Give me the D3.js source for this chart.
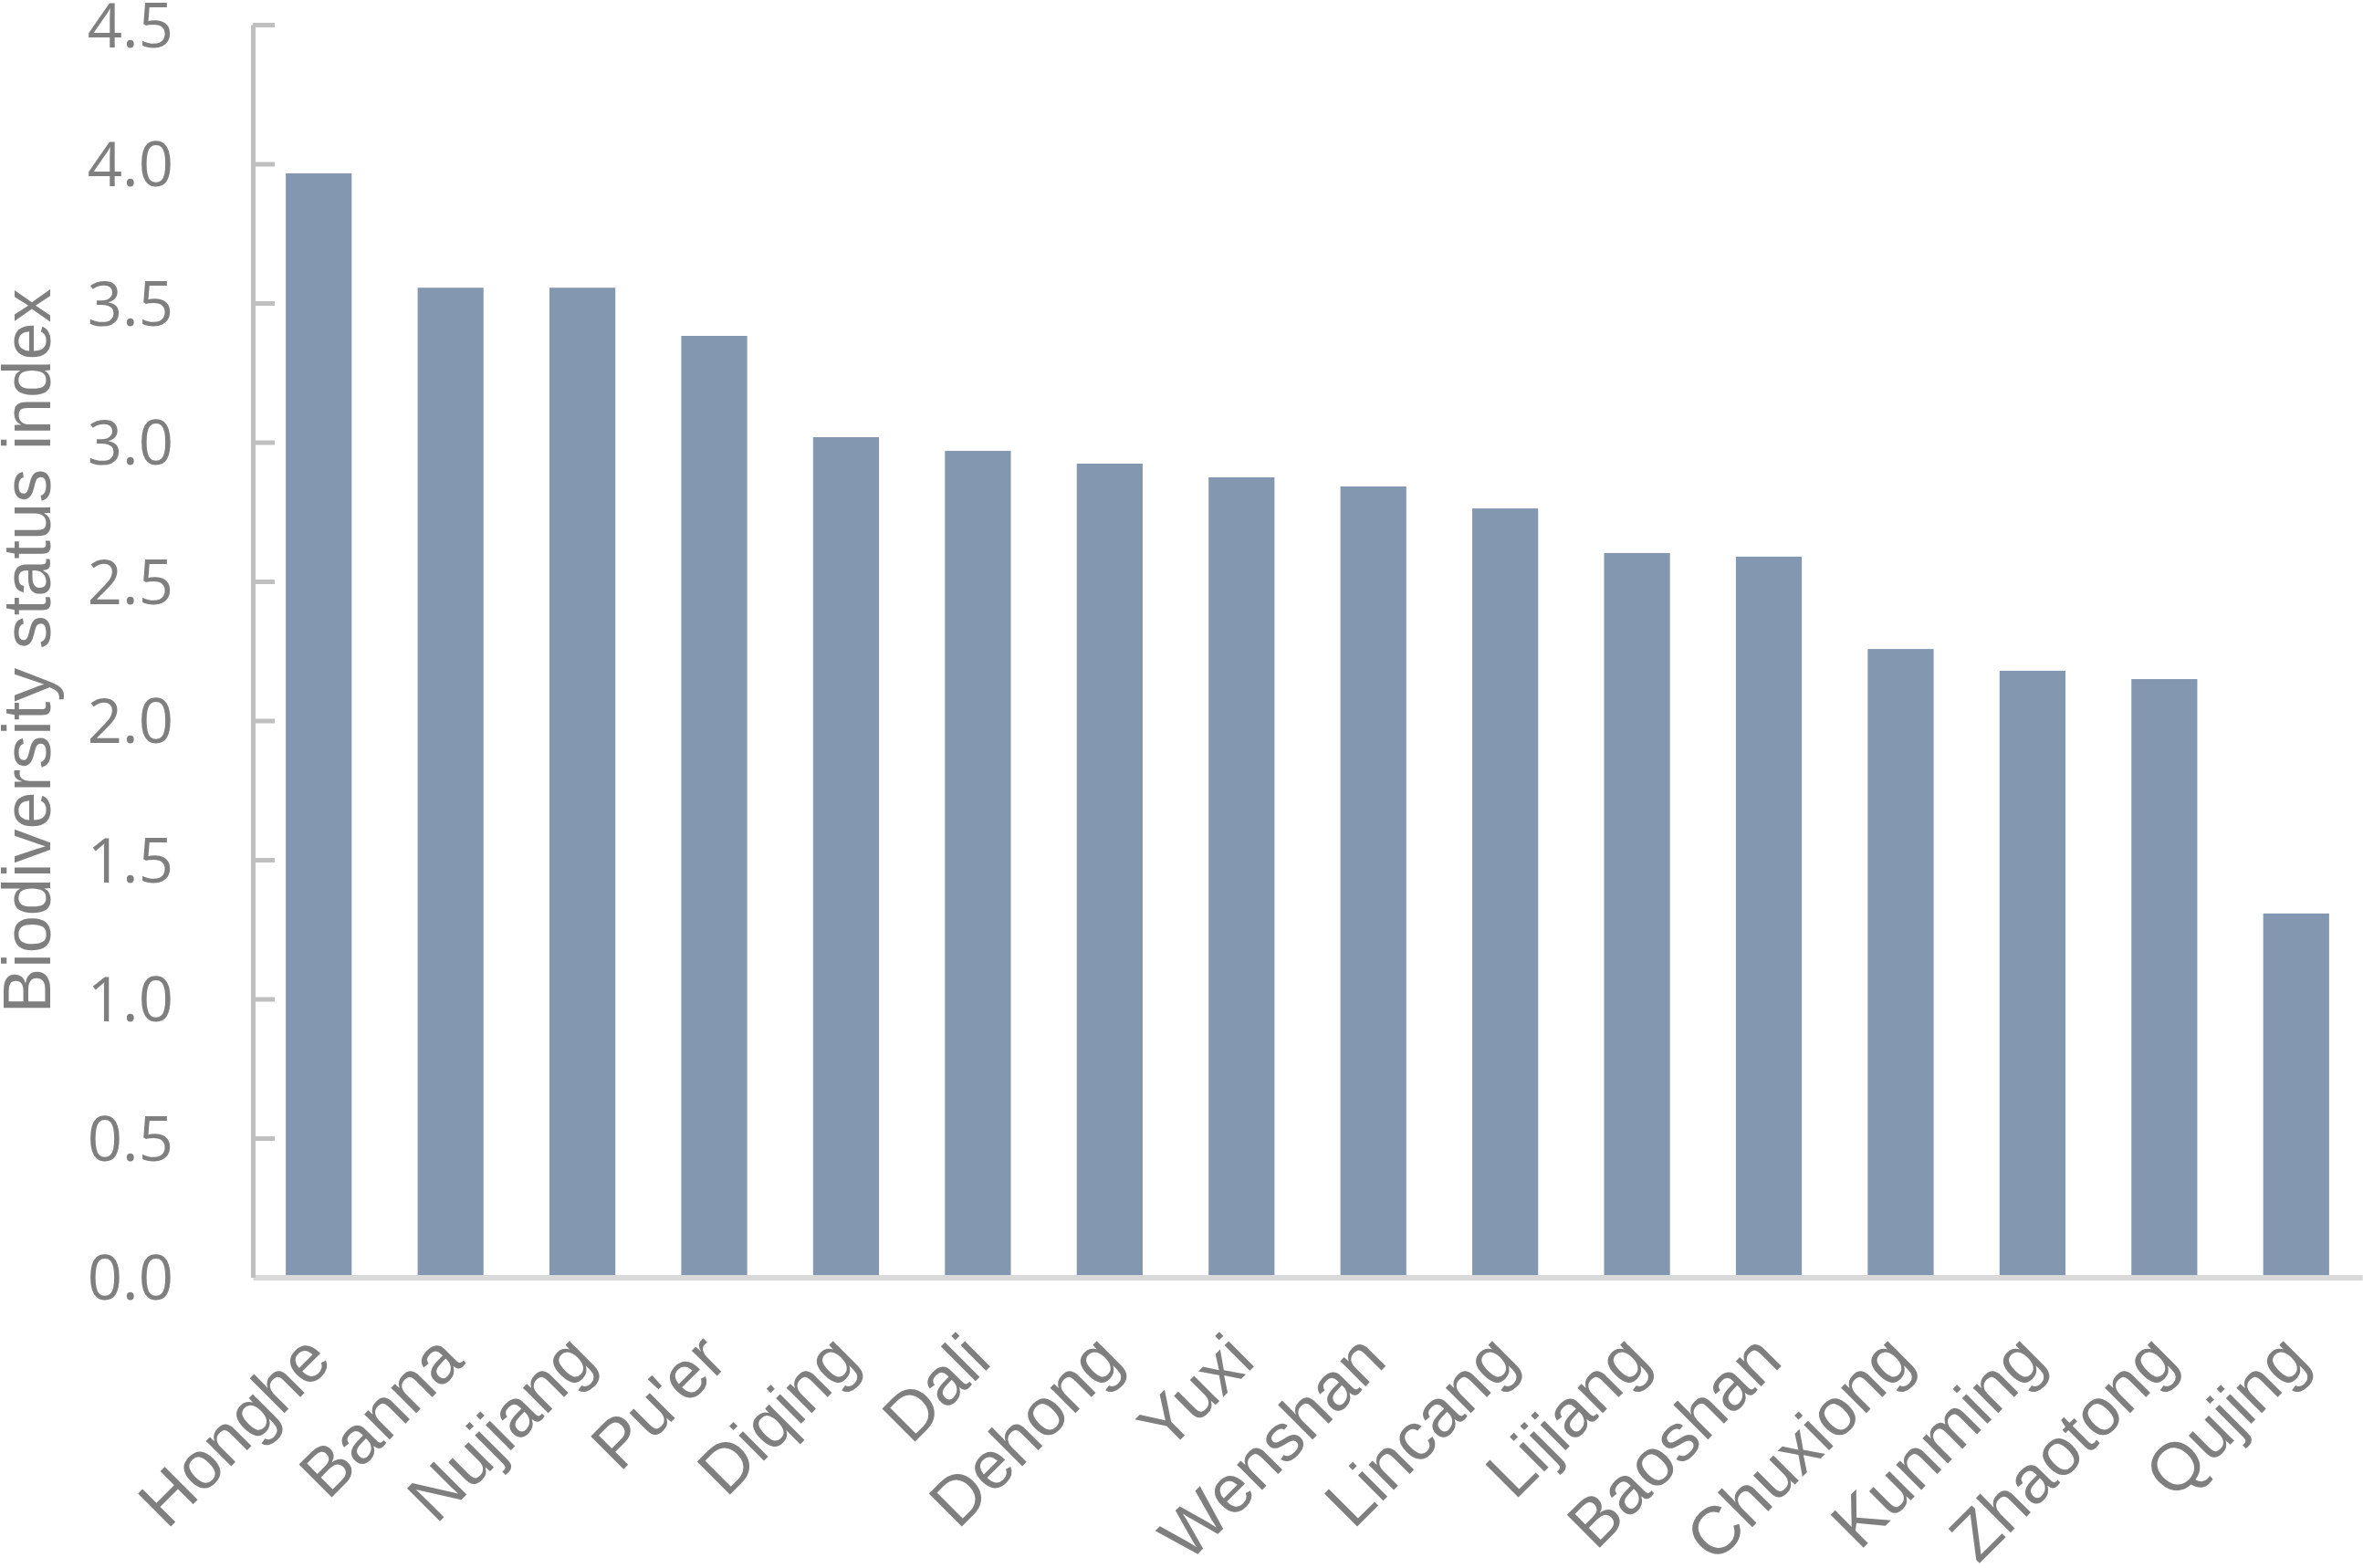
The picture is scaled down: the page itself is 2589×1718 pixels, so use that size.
<!DOCTYPE html>
<html>
<head>
<meta charset="utf-8">
<script src="https://cdn.jsdelivr.net/npm/d3@7"></script>
<style>
  html, body { margin: 0; padding: 0; background: #ffffff; }
  svg { display: block; }
</style>
</head>
<body>
<svg id="chart" width="2589" height="1718"></svg>
<script>
const categories = ["Honghe", "Banna", "Nujiang", "Pu'er", "Diqing", "Dali", "Dehong", "Yuxi",
  "Wenshan", "Lincang", "Lijiang", "Baoshan", "Chuxiong", "Kunming", "Zhaotong", "Qujing"];
const values = [3.966, 3.555, 3.555, 3.382, 3.018, 2.969, 2.923, 2.874,
  2.841, 2.762, 2.602, 2.589, 2.257, 2.179, 2.149, 1.307];
const yTicks = [0, 0.5, 1.0, 1.5, 2.0, 2.5, 3.0, 3.5, 4.0, 4.5];
const yTitle = "Biodiversity status index";

const svg = d3.select("#chart");
svg.append("rect").attr("width", 2589).attr("height", 1718).attr("fill", "#ffffff");

const x = d3.scaleBand().domain(categories).range([277, 2588]).paddingInner(0.5).paddingOuter(0.25);
const y = d3.scaleLinear().domain([0, 4.5]).range([1399.5, 27]);

// bars
svg.append("g").selectAll("rect").data(categories).join("rect")
  .attr("x", d => x(d))
  .attr("width", x.bandwidth())
  .attr("y", (d, i) => y(values[i]))
  .attr("height", (d, i) => y(0) - y(values[i]))
  .attr("fill", "#8497b0");

// x axis
const xAxis = svg.append("g").attr("transform", `translate(0,${y(0)})`)
  .call(d3.axisBottom(x).tickSize(0).tickSizeOuter(0));
xAxis.select(".domain").attr("stroke", "#d9d9d9").attr("stroke-width", 6);
xAxis.selectAll(".tick text")
  .attr("x", 0).attr("y", 0).attr("dy", 0)
  .attr("transform", "translate(17,94) rotate(-45)")
  .attr("text-anchor", "end")
  .attr("fill", "#7f7f7f")
  .style("font-family", "'Liberation Sans', Arial, sans-serif")
  .style("font-size", "74px");

// y axis
const yAxis = svg.append("g").attr("transform", "translate(277,0)")
  .call(d3.axisLeft(y).tickValues(yTicks).tickFormat(d3.format(".1f"))
    .tickSize(-24).tickSizeOuter(0).tickPadding(87));
yAxis.select(".domain").attr("stroke", "#bfbfbf").attr("stroke-width", 5);
yAxis.selectAll(".tick line").attr("stroke", "#bfbfbf").attr("stroke-width", 5);
yAxis.selectAll(".tick").filter(d => d === 0).select("line").remove();
yAxis.selectAll(".tick text")
  .attr("dy", 0).attr("y", 24)
  .attr("fill", "#7f7f7f")
  .style("font-family", "'Open Sans', 'Noto Sans', sans-serif")
  .style("font-size", "67px");

// y title
svg.append("text")
  .attr("transform", `translate(55,${(y(0) + y(4.5)) / 2}) rotate(-90)`)
  .attr("text-anchor", "middle")
  .attr("fill", "#7f7f7f")
  .style("font-family", "'Liberation Sans', Arial, sans-serif")
  .style("font-size", "74px")
  .text(yTitle);
</script>
</body>
</html>
